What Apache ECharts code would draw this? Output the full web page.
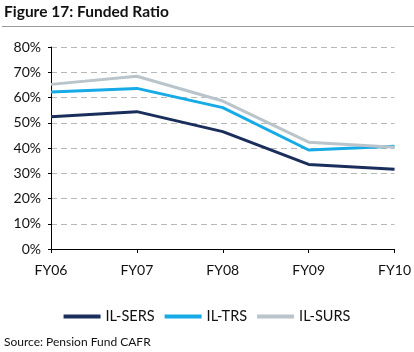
<!DOCTYPE html>
<html>
<head>
<meta charset="utf-8">
<script src="https://cdn.jsdelivr.net/npm/echarts@6/dist/echarts.min.js"></script>
<style>
  html, body { margin: 0; padding: 0; background: #fff; }
  #chart { width: 414px; height: 352px; }
</style>
</head>
<body>
<div id="chart"></div>
<script>
// data (funded ratio, %)
const years = ['FY06', 'FY07', 'FY08', 'FY09', 'FY10']
const ilSers = [52.4, 54.4, 46.5, 33.5, 31.6]
const ilTrs = [62.2, 63.6, 56.0, 39.2, 40.7]
const ilSurs = [65.2, 68.4, 58.6, 42.3, 40.3]

const font = 'Lato'
const chart = echarts.init(document.getElementById('chart'), null, { renderer: 'canvas' })

const makeSeries = (name, data, color) => ({
  name,
  type: 'line',
  data,
  symbol: 'none',
  lineStyle: { color, width: 3 },
  itemStyle: { color }
})

chart.setOption({
  animation: false,
  graphic: [
    { // title
      type: 'text', left: 4, top: 4,
      style: { text: 'Figure 17: Funded Ratio', font: 'bold 15.5px ' + font, fill: '#111' }
    },
    { // rule under the title
      type: 'rect', left: 2, top: 26,
      shape: { width: 412, height: 1 },
      style: { fill: '#9a9a9a' }
    },
    { // source note
      type: 'text', left: 4, top: 336,
      style: { text: 'Source: Pension Fund CAFR', font: '12px ' + font, fill: '#111' }
    }
  ],
  grid: { left: 51, right: 19, top: 47, bottom: 103 },
  legend: {
    top: 304,
    left: 'center',
    itemWidth: 37,
    itemHeight: 4,
    itemGap: 10,
    icon: 'rect',
    textStyle: { fontFamily: font, fontSize: 14.5, color: '#111', padding: [0, 0, 0, 0] },
    data: ['IL-SERS', 'IL-TRS', 'IL-SURS']
  },
  xAxis: {
    type: 'category',
    data: years,
    boundaryGap: false,
    axisLine: { lineStyle: { color: '#000', width: 1 } },
    axisTick: { alignWithLabel: true, length: 4, lineStyle: { color: '#000' } },
    axisLabel: { fontFamily: font, fontSize: 14, color: '#111', margin: 14 }
  },
  yAxis: {
    type: 'value',
    min: 0,
    max: 80,
    interval: 10,
    axisLine: { show: true, lineStyle: { color: '#000', width: 1 } },
    axisTick: { show: true, length: 3, lineStyle: { color: '#000' } },
    axisLabel: { fontFamily: font, fontSize: 14, color: '#111', margin: 10, formatter: '{value}%' },
    splitLine: { lineStyle: { color: '#b8b8b8', type: [6, 4] } }
  },
  series: [
    makeSeries('IL-SERS', ilSers, '#1a2e5c'),
    makeSeries('IL-TRS', ilTrs, '#16aae6'),
    makeSeries('IL-SURS', ilSurs, '#b9c4cb')
  ]
})
</script>
</body>
</html>
